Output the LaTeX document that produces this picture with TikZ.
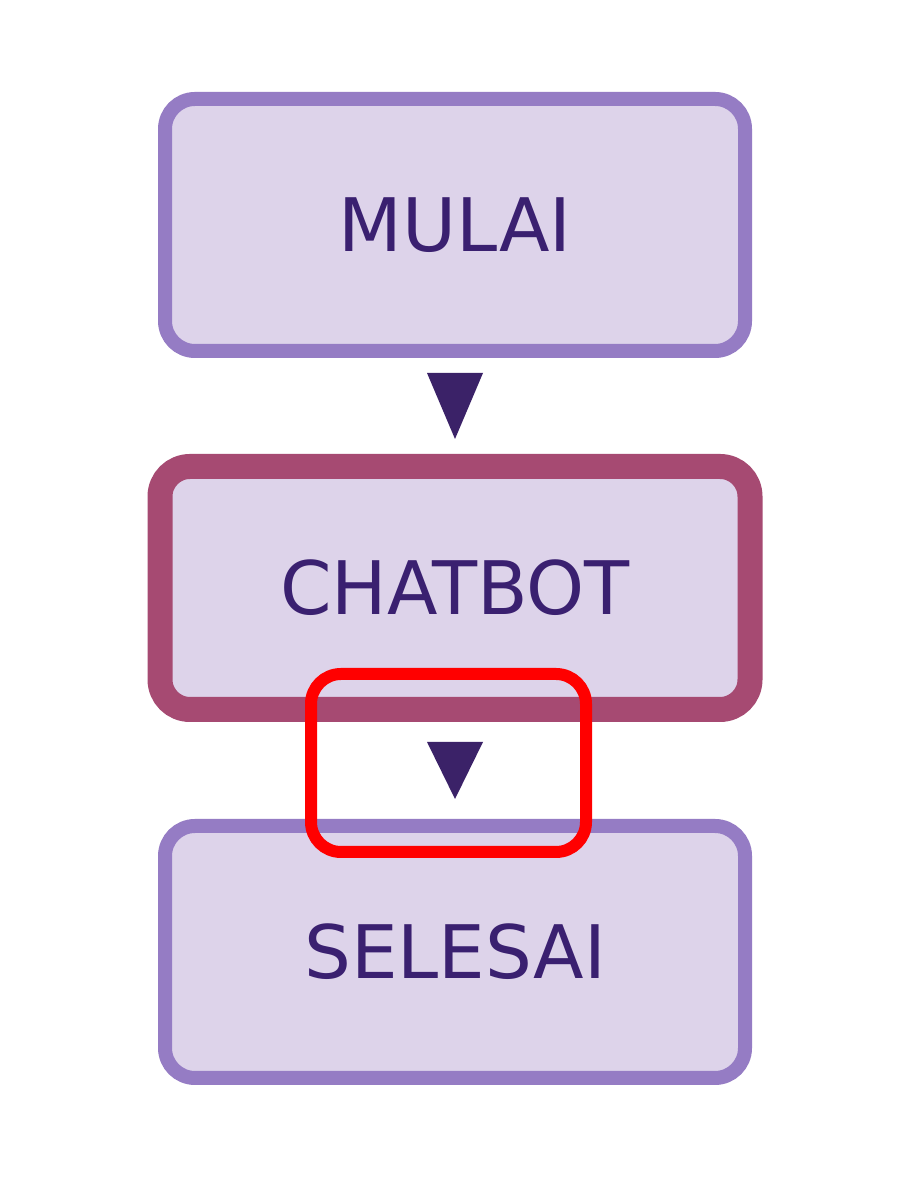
\documentclass[tikz,border=0pt]{standalone}
\usepackage{fontspec}
\setmainfont{DejaVu Sans}
\usetikzlibrary{positioning, calc}
\definecolor{boxfill}{HTML}{DDD3EA}
\definecolor{boxline}{HTML}{957CC4}
\definecolor{mainline}{HTML}{A64A72}
\definecolor{txtc}{HTML}{3A2070}
\definecolor{tipc}{HTML}{3B2268}
\begin{document}
\begin{tikzpicture}[
          stepbox/.style={rectangle, rounded corners=0.3cm, draw=boxline, fill=boxfill,
                          line width=0.14cm, minimum width=5.8cm, minimum height=2.52cm,
                          text=txtc, font=\fontsize{21}{26}\selectfont},
          mainbox/.style={stepbox, draw=mainline, line width=0.25cm, minimum width=5.9cm, minimum height=2.43cm}
        ]
        \fill[white] (0,0) rectangle (9.12,11.84);
        \useasboundingbox (0,0) rectangle (9.12,11.84);
        % the three steps
        \node[stepbox] (mulai) at (4.55,9.59) {MULAI};
        \node[mainbox] (chatbot) at (4.55,5.96) {CHATBOT};
        \node[stepbox] (selesai) at (4.55,2.32) {SELESAI};
        % arrow heads between the steps
        \fill[tipc] ([xshift=-0.28cm,yshift=-0.15cm]mulai.south) -- ([xshift=0.28cm,yshift=-0.15cm]mulai.south)
          -- ([yshift=0.15cm]chatbot.north) -- cycle;
        \fill[tipc] ([xshift=-0.28cm,yshift=-0.2cm]chatbot.south) -- ([xshift=0.28cm,yshift=-0.2cm]chatbot.south)
          -- ([yshift=0.2cm]selesai.north) -- cycle;
        % highlight
        \node[draw=red, line width=0.12cm, rounded corners=0.3cm, minimum width=2.75cm, minimum height=1.78cm]
          (mark) at (4.485,4.21) {};
\end{tikzpicture}
\end{document}
